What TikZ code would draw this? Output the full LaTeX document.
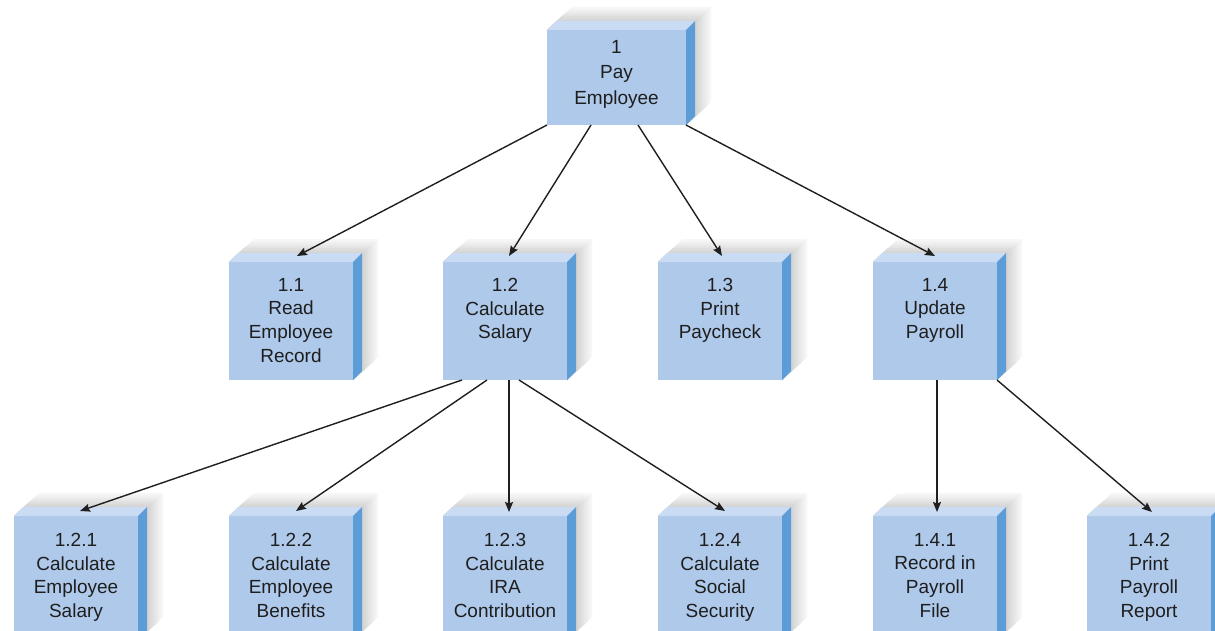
\documentclass[tikz,border=0pt]{standalone}
\usepackage{fontspec}
\setmainfont{Liberation Sans}
\usetikzlibrary{arrows.meta,calc}
\definecolor{frontblue}{RGB}{175,201,234}
\definecolor{topblue}{RGB}{202,220,243}
\definecolor{sideblue}{RGB}{92,157,216}
\definecolor{txtcol}{RGB}{30,30,30}
\tikzset{
  front/.style={rectangle, inner sep=0pt, outer sep=0pt, draw=none},
  txt/.style={inner sep=0pt, align=center, font=\fontsize{19}{23.6}\selectfont, text=txtcol},
  arr/.style={draw=black!88, line width=1.4pt, -{Stealth[length=10pt,width=8pt,inset=1.5pt]}},
}
\newcommand\procbox[7]{%
  \node[front, minimum width=#4pt, minimum height=#5pt, anchor=north west] (#1) at (#2,#3) {};
  \foreach \sx/\sy/\c in {25/-23/3,23/-21/5,21/-19/7,19/-17/9,17/-15.5/11,15/-14/13,13/-12/15,11/-10/17}{
    \fill[black!\c] (#1.north west) -- ++(\sx,\sy) -- ([shift={(\sx,\sy)}]#1.north east) -- ([shift={(\sx,\sy)}]#1.south east) -- (#1.south east) -- cycle;
  }
  \fill[frontblue] (#1.north west) rectangle (#1.south east);
  \fill[topblue] (#1.north west) -- ++(9,-9) -- ([shift={(9,-9)}]#1.north east) -- (#1.north east) -- cycle;
  \fill[sideblue] (#1.north east) -- ++(9,-9) -- ([shift={(9,-9)}]#1.south east) -- (#1.south east) -- cycle;
  \node[txt, anchor=north] (#1t) at ([yshift=-#6pt]#1.north) {#7};
}
\begin{document}
\begin{tikzpicture}[x=1pt,y=-1pt]
\useasboundingbox[fill=white] (0,0) rectangle (1215,631);
\clip (0,0) rectangle (1215,631);
% level 0
\procbox{n1}{547}{30}{139}{95}{10}{1\\[2pt]Pay\\[2pt]Employee}
% level 1
\procbox{n11}{229}{262}{124}{118}{16}{1.1\\Read\\Employee\\Record}
\procbox{n12}{443}{262}{124}{118}{16}{1.2\\Calculate\\Salary}
\procbox{n13}{658}{262}{124}{118}{16}{1.3\\Print\\Paycheck}
\procbox{n14}{873}{262}{124}{118}{16}{1.4\\Update\\Payroll}
% level 2
\procbox{n121}{14}{516}{124}{124}{17}{1.2.1\\Calculate\\Employee\\Salary}
\procbox{n122}{229}{516}{124}{124}{17}{1.2.2\\Calculate\\Employee\\Benefits}
\procbox{n123}{443}{516}{124}{124}{17}{1.2.3\\Calculate\\IRA\\Contribution}
\procbox{n124}{658}{516}{124}{124}{17}{1.2.4\\Calculate\\Social\\Security}
\procbox{n141}{873}{516}{124}{124}{17}{1.4.1\\Record in\\Payroll\\File}
\procbox{n142}{1087}{516}{124}{124}{17}{1.4.2\\Print\\Payroll\\Report}
% connectors
\draw[arr] (n1.south west) -- ([xshift=6pt,yshift=6pt]n11.north);
\draw[arr] ([xshift=-25.5pt]n1.south) -- ([xshift=4pt,yshift=6pt]n12.north);
\draw[arr] ([xshift=21.5pt]n1.south) -- ([xshift=2pt,yshift=6pt]n13.north);
\draw[arr] (n1.south east) -- ([yshift=6pt]n14.north);
\draw[arr] ([xshift=-43pt]n12.south) -- ([xshift=4pt,yshift=5pt]n121.north);
\draw[arr] ([xshift=-18pt]n12.south) -- ([xshift=5pt,yshift=5pt]n122.north);
\draw[arr] ([xshift=4pt]n12.south) -- ([xshift=4pt,yshift=4pt]n123.north);
\draw[arr] ([xshift=14pt]n12.south) -- ([xshift=5pt,yshift=5pt]n124.north);
\draw[arr] ([xshift=2pt]n14.south) -- ([xshift=2pt,yshift=4pt]n141.north);
\draw[arr] (n14.south east) -- ([xshift=3pt,yshift=4pt]n142.north);
\end{tikzpicture}
\end{document}
